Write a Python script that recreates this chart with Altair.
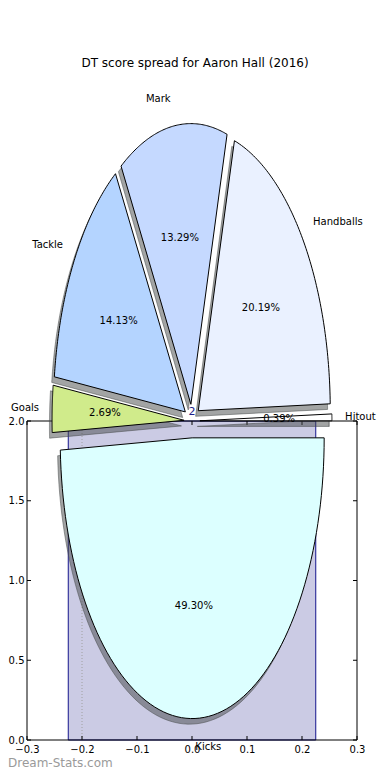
import altair as alt
import pandas as pd

# ---------------- data ----------------
TITLE = "DT score spread for Aaron Hall (2016)"
slice_labels = ["Hitout", "Handballs", "Mark", "Tackle", "Goals", "Kicks"]
slice_pcts = [0.39, 20.19, 13.29, 14.13, 2.69, 49.30]
slice_colors = ["#ffffff", "#eaf1ff", "#c5d9ff", "#b4d4ff", "#d0eb8b", "#dcffff"]
slice_explode = [0.06, 0.06, 0.06, 0.06, 0.06, 0.06]

bar_x = [0.0]
bar_values = [2]
ref_line_x = [-0.2]

x_ticks = [-0.3, -0.2, -0.1, 0.0, 0.1, 0.2, 0.3]
y_ticks = [0.0, 0.5, 1.0, 1.5, 2.0]

WATERMARK = "Dream-Stats.com"

# ---------------- style / geometry ----------------
FONT = "DejaVu Sans"
BAR_WIDTH = 0.45
PIE_CX, PIE_CY = 0.0, 2.0
PIE_RX, PIE_RY = 0.24, 1.76
SHADOW = 0.02
N = 90
W, H = 330, 660
PX_PER_Y = 159.5
Y_TOP = H / PX_PER_Y

xs = alt.Scale(domain=[x_ticks[0], x_ticks[-1]], nice=False, zero=False)
ys = alt.Scale(domain=[0, Y_TOP], nice=False, zero=False)
x_axis = alt.Axis(values=x_ticks, format=".1f", title=None, ticks=False, domain=False,
                  grid=False, labelFont=FONT, labelFontSize=10, labelColor="black",
                  labelPadding=4, labelOverlap=False, labelFlush=False)
y_axis = alt.Axis(values=y_ticks, format=".1f", title=None, ticks=False, domain=False,
                  grid=False, labelFont=FONT, labelFontSize=10, labelColor="black",
                  labelPadding=3, labelOverlap=False, labelFlush=False)


def X(f, **kw):
    return alt.X(f, scale=xs, axis=x_axis, **kw)


def Y(f, **kw):
    return alt.Y(f, scale=ys, axis=y_axis, **kw)


# ---------------- bar + axes frame ----------------
bar_df = pd.DataFrame({"x": bar_x, "v": bar_values})
bar = alt.Chart(bar_df).transform_calculate(
    x0=f"datum.x - {BAR_WIDTH / 2}", x1=f"datum.x + {BAR_WIDTH / 2}", base="0"
).mark_rect(fill="#cbcbe4", stroke="#14148c", strokeWidth=1).encode(
    x=X("x0:Q"), x2="x1:Q", y=Y("base:Q"), y2="v:Q"
)

bar_label = alt.Chart(bar_df).mark_text(
    font=FONT, fontSize=11, color="#1a1a8a", baseline="bottom", dy=-4
).encode(x=X("x:Q"), y=Y("v:Q"), text=alt.Text("v:Q", format="d"))

ref_df = pd.DataFrame({"x": ref_line_x})
refline = alt.Chart(ref_df).transform_calculate(
    y0=str(y_ticks[0]), y1=str(y_ticks[-1])
).mark_rule(color="#a0a0a0", strokeDash=[1, 2], strokeWidth=1).encode(
    x=X("x:Q"), y=Y("y0:Q"), y2="y1:Q"
)

xa, xb, ya, yb = x_ticks[0], x_ticks[-1], y_ticks[0], y_ticks[-1]
frame_df = pd.DataFrame({
    "x": [xa, xa, xa, xb], "x2": [xb, xb, xa, xb],
    "y": [ya, yb, ya, ya], "y2": [ya, yb, yb, yb],
})
frame = alt.Chart(frame_df).mark_rule(color="black", strokeWidth=1).encode(
    x=X("x:Q"), x2="x2:Q", y=Y("y:Q"), y2="y2:Q"
)

xt_df = pd.DataFrame({"x": x_ticks})
yt_df = pd.DataFrame({"y": y_ticks})
tick_kw = dict(color="black", size=4, thickness=1, opacity=1)
ticks_bottom = alt.Chart(xt_df).transform_calculate(yy=str(ya)).mark_tick(
    orient="vertical", yOffset=-2, **tick_kw).encode(x=X("x:Q"), y=Y("yy:Q"))
ticks_top = alt.Chart(xt_df).transform_calculate(yy=str(yb)).mark_tick(
    orient="vertical", yOffset=2, **tick_kw).encode(x=X("x:Q"), y=Y("yy:Q"))
ticks_left = alt.Chart(yt_df).transform_calculate(xx=str(xa)).mark_tick(
    orient="horizontal", xOffset=2, **tick_kw).encode(x=X("xx:Q"), y=Y("y:Q"))
ticks_right = alt.Chart(yt_df).transform_calculate(xx=str(xb)).mark_tick(
    orient="horizontal", xOffset=-2, **tick_kw).encode(x=X("xx:Q"), y=Y("y:Q"))

# ---------------- exploded, shadowed pie ----------------
pie_df = pd.DataFrame({
    "label": slice_labels, "pct": slice_pcts, "color": slice_colors,
    "explode": slice_explode, "idx": list(range(len(slice_labels))),
})
pie_base = alt.Chart(pie_df).transform_window(
    cum="sum(pct)", sort=[alt.SortField("idx")], frame=[None, 0]
).transform_joinaggregate(total="sum(pct)").transform_calculate(
    a0="2*PI*(datum.cum - datum.pct)/datum.total",
    a1="2*PI*datum.cum/datum.total",
).transform_calculate(
    am="(datum.a0 + datum.a1)/2"
).transform_calculate(
    ox=f"datum.explode*{PIE_RX}*cos(datum.am)",
    oy=f"datum.explode*{PIE_RY}*sin(datum.am)",
)

pie_pts = pie_base.transform_calculate(
    k=f"sequence(0, {N + 3})"
).transform_flatten(["k"]).transform_calculate(
    r=f"(datum.k == 0 || datum.k == {N + 2}) ? 0 : 1",
    t=f"clamp((datum.k - 1)/{N}, 0, 1)",
).transform_calculate(
    a="datum.a0 + (datum.a1 - datum.a0)*datum.t"
).transform_calculate(
    px=f"{PIE_CX} + datum.ox + datum.r*{PIE_RX}*cos(datum.a)",
    py=f"{PIE_CY} + datum.oy + datum.r*{PIE_RY}*sin(datum.a)",
).transform_calculate(
    sx=f"datum.px - {SHADOW * PIE_RX}",
    sy=f"datum.py - {SHADOW * PIE_RY}",
)

shadows = pie_pts.mark_line(
    fill="#464a4a", fillOpacity=0.5, stroke="#464a4a", strokeOpacity=0.5, strokeWidth=1
).encode(x=X("sx:Q"), y=Y("sy:Q"), detail="label:N", order=alt.Order("k:Q"))

wedges = pie_pts.mark_line(
    stroke="black", strokeWidth=1, strokeJoin="miter"
).encode(
    x=X("px:Q"), y=Y("py:Q"), detail="label:N", order=alt.Order("k:Q"),
    fill=alt.Fill("color:N", scale=None, legend=None),
)

pie_text = pie_base.transform_calculate(
    lx=f"{PIE_CX} + datum.ox + 1.1*{PIE_RX}*cos(datum.am)",
    ly=f"{PIE_CY} + datum.oy + 1.1*{PIE_RY}*sin(datum.am)",
    tx=f"{PIE_CX} + datum.ox + 0.6*{PIE_RX}*cos(datum.am)",
    ty=f"{PIE_CY} + datum.oy + 0.6*{PIE_RY}*sin(datum.am)",
    ptxt="format(datum.pct, '.2f') + '%'",
    side="cos(datum.am) > 0 ? 1 : 0",
)
txt_kw = dict(font=FONT, fontSize=10, color="black", baseline="middle")
pct_labels = pie_text.mark_text(align="center", **txt_kw).encode(
    x=X("tx:Q"), y=Y("ty:Q"), text="ptxt:N")
labels_right = pie_text.transform_filter("datum.side == 1").mark_text(
    align="left", **txt_kw).encode(x=X("lx:Q"), y=Y("ly:Q"), text="label:N")
labels_left = pie_text.transform_filter("datum.side == 0").mark_text(
    align="right", **txt_kw).encode(x=X("lx:Q"), y=Y("ly:Q"), text="label:N")

wm = alt.Chart(pd.DataFrame({"t": [WATERMARK]})).mark_text(
    font=FONT, fontSize=12, color="#9a9a9a", align="left", baseline="middle"
).encode(x=alt.value(-19), y=alt.value(H + 23), text="t:N")

chart = alt.layer(
    bar, refline, frame, ticks_bottom, ticks_top, ticks_left, ticks_right,
    bar_label, shadows, wedges, pct_labels, labels_right, labels_left, wm,
).properties(
    width=W, height=H,
    title=alt.TitleParams(TITLE, font=FONT, fontSize=12, fontWeight="normal",
                          color="black", anchor="middle", frame="group", offset=10, dx=3),
    autosize=alt.AutoSizeParams(type="none"),
    padding={"left": 19, "top": 72, "right": 23, "bottom": 30},
).configure(
    background="white",
    view=alt.ViewConfig(stroke="transparent", strokeWidth=0),
)

chart.save("out.html", embed_options={"renderer": "svg", "actions": False})
